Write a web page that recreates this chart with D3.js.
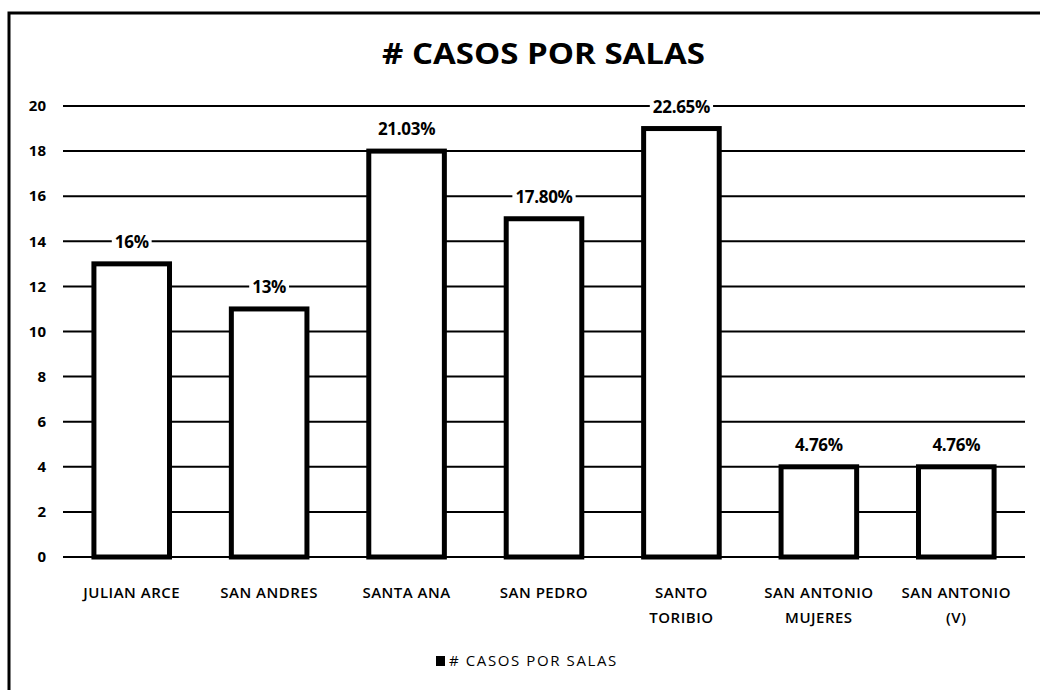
<!DOCTYPE html>
<html>
<head>
<meta charset="utf-8">
<script src="https://cdn.jsdelivr.net/npm/d3@7"></script>
<style>
  body { margin: 0; background: #fff; }
  svg { display: block; font-family: "Open Sans", Lato, sans-serif; }
</style>
</head>
<body>
<svg id="chart" width="1040" height="690"></svg>
<script>
(function () {
    'use strict';

    const salas = [["JULIAN ARCE"], ["SAN ANDRES"], ["SANTA ANA"], ["SAN PEDRO"],
        ["SANTO", "TORIBIO"], ["SAN ANTONIO", "MUJERES"], ["SAN ANTONIO", "(V)"]];
    const casos = [13, 11, 18, 15, 19, 4, 4];
    const porcentajes = ["16%", "13%", "21.03%", "17.80%", "22.65%", "4.76%", "4.76%"];
    const yTicks = [0, 2, 4, 6, 8, 10, 12, 14, 16, 18, 20];

    const width = 1040;
    const height = 690;
    const margin = {top: 106, right: 15, bottom: 133, left: 63};

    const svg = d3.select('#chart');

    // outer frame (only left and top edges show in the scan)
    svg.append("path")
        .attr("d", `M9,${height} V13 H${width}`)
        .attr("fill", "none")
        .attr("stroke", "#000")
        .attr("stroke-width", 3);

    const x = d3.scaleBand()
        .domain(d3.range(salas.length))
        .range([margin.left, width - margin.right])
        .paddingInner(0.45)
        .paddingOuter(0.225);

    const y = d3.scaleLinear()
        .domain([0, 20])
        .range([height - margin.bottom, margin.top]);

    svg.append("text")
        .attr("x", 382)
        .attr("y", 64)
        .attr("textLength", 323)
        .attr("lengthAdjust", "spacingAndGlyphs")
        .style("font-size", "28px")
        .style("font-weight", "bold")
        .text("# CASOS POR SALAS");

    // gridlines
    svg.append("g")
        .selectAll("line")
        .data(yTicks)
        .join("line")
        .attr("x1", margin.left)
        .attr("x2", width - margin.right)
        .attr("y1", d => y(d))
        .attr("y2", d => y(d))
        .attr("stroke", "#000")
        .attr("stroke-width", 2);

    // y axis labels
    svg.append("g")
        .selectAll("text")
        .data(yTicks)
        .join("text")
        .attr("x", 46)
        .attr("y", d => y(d))
        .attr("dy", "0.35em")
        .attr("text-anchor", "end")
        .style("font-size", "15px")
        .style("font-weight", "bold")
        .text(d => d);

    // bars
    svg.append("g")
        .selectAll("rect")
        .data(casos)
        .join("rect")
        .attr("x", (d, i) => x(i))
        .attr("y", d => y(d))
        .attr("width", x.bandwidth())
        .attr("height", d => y(0) - y(d))
        .attr("fill", "#fff")
        .attr("stroke", "#000")
        .attr("stroke-width", 5);

    // value labels, white box behind so the gridline breaks
    const lab = svg.append("g")
        .selectAll("g")
        .data(casos)
        .join("g")
        .attr("transform", (d, i) => `translate(${x(i) + x.bandwidth() / 2},${y(d) - 22})`);

    lab.append("text")
        .attr("dy", "0.35em")
        .attr("text-anchor", "middle")
        .style("font-size", "17px")
        .style("font-weight", "bold")
        .style("letter-spacing", "-0.3px")
        .text((d, i) => porcentajes[i])
        .each(function () {
            const b = this.getBBox();
            d3.select(this.parentNode).insert("rect", "text")
                .attr("x", b.x - 3)
                .attr("y", b.y + 2)
                .attr("width", b.width + 6)
                .attr("height", b.height - 4)
                .attr("fill", "#fff");
        });

    // category labels
    svg.append("g")
        .selectAll("text")
        .data(salas)
        .join("text")
        .attr("x", (d, i) => x(i) + x.bandwidth() / 2)
        .attr("y", 598)
        .attr("text-anchor", "middle")
        .style("font-size", "15px")
        .style("font-weight", "600")
        .style("letter-spacing", "0.5px")
        .selectAll("tspan")
        .data(d => d)
        .join("tspan")
        .attr("x", function () { return this.parentNode.getAttribute("x"); })
        .attr("dy", (d, i) => i === 0 ? 0 : 25)
        .text(d => d);

    // legend
    const legend = svg.append("g").attr("transform", "translate(436,661)");
    legend.append("rect")
        .attr("x", 0)
        .attr("y", -5)
        .attr("width", 9)
        .attr("height", 10)
        .attr("fill", "#000");
    legend.append("text")
        .attr("x", 13)
        .attr("dy", "0.35em")
        .style("font-size", "15px")
        .style("letter-spacing", "1.6px")
        .text("# CASOS POR SALAS");
})();
</script>
</body>
</html>
